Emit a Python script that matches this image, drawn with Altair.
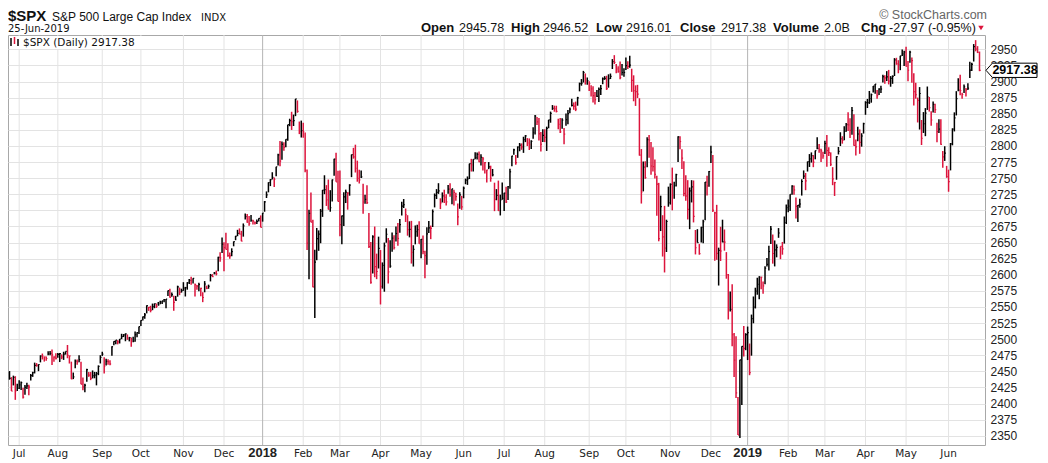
import altair as alt
import pandas as pd

# trading days per month (Jun-2017 partial ... Jun-2019 partial)
month_days = [5, 20, 23, 20, 22, 21, 20,
              21, 19, 21, 21, 22, 21, 21, 23, 19, 23, 21, 19,
              21, 19, 21, 21, 22, 17]
month_labels = ["", "Jul", "Aug", "Sep", "Oct", "Nov", "Dec",
                "2018", "Feb", "Mar", "Apr", "May", "Jun", "Jul", "Aug", "Sep", "Oct", "Nov", "Dec",
                "2019", "Feb", "Mar", "Apr", "May", "Jun"]

c17 = [2439.1, 2419.4, 2440.7, 2419.7, 2423.4,
       2429.0, 2432.5, 2409.8, 2425.2, 2427.4, 2425.5, 2443.3, 2447.8, 2459.3, 2459.1, 2460.6, 2473.8, 2473.5, 2472.5, 2469.9, 2477.1, 2477.8, 2475.4, 2472.1, 2470.3,
       2476.4, 2477.6, 2472.2, 2476.8, 2480.9, 2474.9, 2474.0, 2438.2, 2441.3, 2465.8, 2464.6, 2468.1, 2430.0, 2425.6, 2428.4, 2452.5, 2444.0, 2439.0, 2443.1, 2444.2, 2446.3, 2457.6, 2471.7,
       2476.6, 2457.9, 2465.5, 2465.1, 2461.4, 2488.1, 2496.5, 2498.4, 2495.6, 2500.2, 2503.9, 2506.7, 2508.2, 2500.6, 2502.2, 2496.7, 2496.8, 2507.0, 2510.1, 2519.4,
       2529.1, 2534.6, 2537.7, 2552.1, 2549.3, 2544.7, 2550.6, 2555.2, 2550.9, 2553.2, 2557.6, 2559.4, 2561.3, 2562.1, 2575.2, 2565.0, 2569.1, 2557.2, 2560.4, 2581.1, 2572.8, 2575.3,
       2579.4, 2579.9, 2587.8, 2591.1, 2590.6, 2594.4, 2584.6, 2582.3, 2584.8, 2578.9, 2564.6, 2585.6, 2578.9, 2582.1, 2599.0, 2597.1, 2602.4, 2601.4, 2627.0, 2626.1, 2647.6,
       2642.2, 2639.4, 2629.6, 2629.3, 2636.0, 2651.5, 2660.0, 2664.1, 2662.9, 2652.0, 2675.8, 2690.2, 2681.5, 2679.3, 2684.6, 2683.3, 2680.5, 2682.6, 2687.5, 2673.6]
h17 = [2450.4, 2441.0, 2443.3, 2442.4, 2430.7,
       2436.0, 2434.3, 2424.3, 2428.7, 2432.3, 2429.3, 2445.8, 2449.3, 2463.5, 2462.8, 2460.9, 2474.9, 2477.6, 2472.5, 2473.1, 2481.2, 2481.7, 2484.0, 2473.5, 2478.0,
       2478.5, 2478.5, 2476.3, 2480.4, 2480.9, 2490.9, 2474.4, 2465.0, 2448.1, 2468.2, 2468.4, 2474.9, 2465.0, 2440.3, 2430.6, 2454.0, 2448.9, 2448.9, 2451.4, 2449.1, 2449.0, 2459.2, 2475.0,
       2480.4, 2472.0, 2469.6, 2468.6, 2467.1, 2489.0, 2496.8, 2498.4, 2498.4, 2500.2, 2508.3, 2507.8, 2508.9, 2507.2, 2503.5, 2502.5, 2503.5, 2511.8, 2510.8, 2519.4,
       2529.2, 2535.1, 2540.5, 2552.5, 2550.0, 2551.8, 2555.2, 2555.2, 2555.3, 2557.7, 2559.7, 2559.7, 2562.4, 2562.4, 2575.4, 2578.3, 2572.2, 2567.4, 2567.1, 2583.0, 2580.0, 2578.3,
       2588.4, 2581.1, 2588.4, 2593.4, 2597.0, 2594.4, 2586.5, 2584.0, 2587.7, 2579.7, 2572.8, 2590.1, 2583.0, 2584.6, 2601.2, 2600.9, 2604.2, 2606.4, 2627.7, 2634.9, 2657.7,
       2650.6, 2665.2, 2648.7, 2634.4, 2641.0, 2651.7, 2660.3, 2669.7, 2671.9, 2668.1, 2679.6, 2695.0, 2694.2, 2691.0, 2692.6, 2685.4, 2682.7, 2685.6, 2687.7, 2692.1]
l17 = [2437.0, 2419.4, 2428.1, 2405.7, 2419.3,
       2422.7, 2421.1, 2407.7, 2413.5, 2422.5, 2412.8, 2435.8, 2441.4, 2446.7, 2457.2, 2450.3, 2463.9, 2468.4, 2465.1, 2466.3, 2474.9, 2474.9, 2459.9, 2464.7, 2468.5,
       2471.1, 2464.4, 2468.9, 2467.7, 2475.9, 2470.3, 2462.1, 2437.8, 2437.9, 2454.8, 2460.1, 2463.9, 2430.0, 2420.7, 2417.4, 2433.7, 2441.4, 2436.3, 2439.0, 2439.2, 2428.2, 2444.0, 2462.2,
       2473.9, 2446.6, 2459.2, 2460.3, 2459.4, 2474.0, 2490.4, 2492.1, 2491.9, 2493.2, 2499.9, 2503.2, 2496.7, 2499.0, 2496.5, 2488.0, 2495.1, 2495.9, 2502.9, 2507.8,
       2520.4, 2528.9, 2531.8, 2540.0, 2543.8, 2541.6, 2544.9, 2548.0, 2548.3, 2552.0, 2554.3, 2554.7, 2557.4, 2547.9, 2567.0, 2564.3, 2565.6, 2544.0, 2559.5, 2565.9, 2568.3, 2572.2,
       2574.9, 2566.2, 2576.8, 2585.7, 2584.4, 2586.4, 2566.3, 2576.6, 2574.5, 2566.6, 2557.4, 2572.7, 2577.5, 2578.2, 2589.6, 2596.4, 2600.5, 2598.9, 2605.4, 2620.3, 2633.9,
       2605.5, 2639.1, 2627.7, 2624.8, 2628.7, 2644.1, 2653.6, 2659.8, 2662.9, 2652.0, 2659.1, 2685.9, 2680.7, 2676.1, 2682.4, 2678.1, 2678.0, 2678.9, 2682.7, 2673.6]

c18 = [2695.8, 2713.1, 2724.0, 2743.2, 2747.7, 2751.3, 2748.2, 2767.6, 2786.2, 2776.4, 2802.6, 2798.0, 2810.3, 2833.0, 2839.1, 2837.5, 2839.3, 2872.9, 2853.5, 2822.4, 2823.8,
       2822.0, 2762.1, 2648.9, 2695.1, 2681.7, 2581.0, 2619.6, 2656.0, 2662.9, 2698.6, 2731.2, 2732.2, 2716.3, 2701.3, 2704.0, 2747.3, 2779.6, 2744.3, 2713.8,
       2677.7, 2691.3, 2720.9, 2728.1, 2726.8, 2739.0, 2786.6, 2783.0, 2765.3, 2749.5, 2747.3, 2752.0, 2712.9, 2716.9, 2711.9, 2643.7, 2588.3, 2658.6, 2612.6, 2605.0, 2640.9,
       2581.9, 2614.5, 2644.7, 2662.8, 2604.5, 2613.2, 2656.9, 2642.2, 2664.0, 2656.3, 2677.8, 2706.4, 2708.6, 2693.1, 2670.1, 2670.3, 2634.6, 2639.4, 2666.9, 2669.9, 2648.1,
       2654.8, 2635.7, 2629.7, 2663.4, 2672.6, 2671.9, 2697.8, 2723.1, 2727.7, 2730.1, 2711.5, 2722.5, 2720.1, 2713.0, 2733.0, 2724.4, 2733.3, 2727.8, 2721.3, 2689.9, 2724.0, 2705.3,
       2734.6, 2746.9, 2748.8, 2772.4, 2770.4, 2779.0, 2782.0, 2786.9, 2775.6, 2782.5, 2779.7, 2773.9, 2762.6, 2767.3, 2749.8, 2754.9, 2717.1, 2723.1, 2699.6, 2716.3, 2718.4,
       2726.7, 2713.2, 2736.6, 2759.8, 2784.2, 2793.8, 2774.0, 2798.3, 2801.3, 2798.4, 2809.6, 2815.6, 2804.5, 2801.8, 2807.0, 2820.4, 2846.1, 2837.4, 2818.8, 2802.6, 2816.3,
       2813.4, 2827.2, 2840.4, 2850.4, 2858.5, 2857.7, 2853.6, 2833.3, 2821.9, 2840.0, 2818.4, 2840.7, 2850.1, 2857.1, 2863.0, 2861.8, 2857.0, 2874.7, 2896.7, 2897.5, 2914.0, 2901.1, 2901.5,
       2896.7, 2888.6, 2878.1, 2871.7, 2877.1, 2887.9, 2888.9, 2904.2, 2905.0, 2888.8, 2904.3, 2908.0, 2930.8, 2929.7, 2919.4, 2915.6, 2906.0, 2914.0, 2914.0,
       2924.6, 2923.4, 2925.5, 2901.6, 2885.6, 2884.4, 2880.3, 2785.7, 2728.4, 2767.1, 2750.8, 2809.9, 2809.2, 2768.8, 2767.8, 2755.9, 2740.7, 2656.1, 2705.6, 2658.7, 2641.3, 2682.6, 2711.7,
       2740.4, 2723.1, 2738.3, 2755.5, 2813.9, 2806.8, 2781.0, 2726.2, 2722.2, 2701.6, 2730.2, 2736.3, 2690.7, 2641.9, 2649.9, 2632.6, 2673.5, 2682.2, 2743.8, 2737.8, 2760.2,
       2790.4, 2700.1, 2696.0, 2633.1, 2637.7, 2636.8, 2651.1, 2650.5, 2600.0, 2545.9, 2546.2, 2507.0, 2467.4, 2416.6, 2351.1, 2467.7, 2488.8, 2485.7, 2506.9]
h18 = [2695.9, 2714.4, 2729.3, 2743.5, 2748.5, 2759.1, 2750.8, 2767.6, 2787.9, 2807.5, 2807.0, 2805.8, 2810.3, 2833.0, 2842.2, 2853.0, 2848.6, 2872.9, 2870.6, 2837.8, 2839.3,
       2836.0, 2821.0, 2763.4, 2701.0, 2727.7, 2685.3, 2638.7, 2672.6, 2668.8, 2702.1, 2731.5, 2754.4, 2739.1, 2747.8, 2731.3, 2747.8, 2780.0, 2789.2, 2761.5,
       2761.7, 2692.0, 2728.1, 2732.1, 2728.1, 2740.5, 2786.6, 2797.0, 2801.9, 2777.1, 2763.0, 2761.9, 2741.4, 2724.2, 2739.1, 2695.7, 2650.9, 2661.4, 2674.8, 2632.7, 2659.1,
       2638.3, 2619.1, 2649.9, 2672.1, 2656.9, 2653.6, 2665.5, 2661.4, 2674.7, 2680.3, 2686.5, 2713.3, 2717.5, 2702.8, 2692.4, 2682.9, 2683.6, 2645.8, 2676.5, 2677.4, 2682.9,
       2655.3, 2660.9, 2637.1, 2673.6, 2683.4, 2676.3, 2701.3, 2726.1, 2732.9, 2742.1, 2718.6, 2727.8, 2732.0, 2725.1, 2739.2, 2742.2, 2733.3, 2732.0, 2727.4, 2710.7, 2728.1, 2722.5,
       2736.9, 2749.2, 2752.6, 2772.4, 2779.9, 2779.1, 2790.2, 2789.8, 2791.5, 2787.0, 2782.8, 2775.0, 2763.1, 2774.9, 2769.3, 2764.2, 2742.9, 2732.9, 2746.1, 2724.3, 2743.3,
       2727.3, 2736.6, 2737.8, 2764.4, 2784.7, 2795.6, 2785.9, 2799.2, 2804.5, 2803.9, 2814.2, 2816.8, 2812.1, 2811.6, 2808.6, 2829.0, 2848.0, 2844.9, 2843.2, 2821.7, 2825.8,
       2825.8, 2829.9, 2840.4, 2853.3, 2863.4, 2862.5, 2862.4, 2842.2, 2843.4, 2843.1, 2827.9, 2850.5, 2855.6, 2859.8, 2873.2, 2867.5, 2868.8, 2876.2, 2898.3, 2903.8, 2916.5, 2912.5, 2906.3,
       2900.2, 2894.2, 2892.5, 2883.8, 2886.9, 2890.7, 2894.7, 2906.3, 2908.3, 2908.9, 2911.2, 2912.4, 2934.8, 2940.9, 2927.1, 2923.8, 2931.2, 2927.2, 2920.5,
       2937.1, 2931.4, 2939.9, 2919.8, 2909.6, 2894.0, 2894.8, 2874.0, 2795.1, 2775.8, 2776.0, 2813.5, 2816.9, 2806.0, 2797.8, 2778.9, 2753.6, 2742.6, 2722.7, 2692.4, 2706.9, 2685.4, 2736.7,
       2741.8, 2766.3, 2744.3, 2756.8, 2814.8, 2814.8, 2795.0, 2776.0, 2754.6, 2746.8, 2735.4, 2746.8, 2746.3, 2669.4, 2670.7, 2647.6, 2674.4, 2685.4, 2744.0, 2753.8, 2760.9,
       2800.2, 2785.9, 2697.8, 2708.5, 2642.0, 2674.4, 2685.4, 2670.2, 2635.1, 2601.1, 2574.0, 2585.3, 2509.6, 2504.4, 2410.3, 2467.8, 2489.1, 2520.3, 2509.2]
l18 = [2682.4, 2697.8, 2719.1, 2727.9, 2737.6, 2747.9, 2736.1, 2752.8, 2769.6, 2768.6, 2778.4, 2792.6, 2798.1, 2808.1, 2830.6, 2824.8, 2830.9, 2846.2, 2851.5, 2818.3, 2813.0,
       2812.7, 2759.1, 2638.2, 2593.1, 2681.3, 2580.6, 2532.7, 2622.5, 2637.1, 2648.9, 2689.8, 2725.1, 2706.8, 2701.3, 2697.8, 2713.7, 2753.8, 2744.2, 2713.5,
       2659.7, 2647.3, 2675.8, 2711.3, 2701.0, 2722.7, 2751.5, 2780.2, 2758.7, 2744.4, 2741.5, 2750.0, 2694.6, 2710.1, 2709.8, 2641.6, 2585.9, 2601.8, 2596.1, 2593.1, 2609.7,
       2553.8, 2578.4, 2573.6, 2649.6, 2586.3, 2610.8, 2635.8, 2639.3, 2651.7, 2645.1, 2665.2, 2692.1, 2703.6, 2681.9, 2660.6, 2658.0, 2617.3, 2612.7, 2647.2, 2659.0, 2648.0,
       2625.4, 2631.7, 2594.6, 2615.3, 2664.7, 2655.2, 2674.1, 2704.5, 2717.5, 2725.5, 2701.9, 2712.2, 2711.4, 2707.4, 2725.7, 2721.2, 2709.5, 2707.4, 2715.0, 2676.8, 2702.4, 2700.7,
       2718.7, 2740.5, 2739.5, 2748.5, 2760.2, 2760.2, 2779.3, 2778.8, 2774.7, 2769.5, 2761.7, 2757.1, 2743.3, 2763.9, 2744.4, 2752.7, 2698.7, 2715.6, 2699.0, 2692.0, 2716.4,
       2699.0, 2711.2, 2716.0, 2733.3, 2768.5, 2786.2, 2770.8, 2781.5, 2791.7, 2794.0, 2789.2, 2805.9, 2799.8, 2793.6, 2795.1, 2811.1, 2817.7, 2832.3, 2808.3, 2791.5, 2805.9,
       2805.9, 2792.2, 2827.4, 2836.0, 2855.9, 2853.1, 2852.0, 2825.8, 2819.9, 2826.6, 2802.5, 2831.4, 2833.7, 2850.6, 2861.3, 2856.1, 2854.0, 2862.4, 2884.7, 2893.5, 2898.4, 2895.2, 2895.1,
       2885.1, 2876.9, 2867.3, 2864.1, 2875.9, 2868.1, 2879.2, 2895.8, 2902.5, 2886.9, 2890.4, 2903.8, 2919.4, 2927.1, 2912.8, 2913.4, 2903.3, 2909.3, 2907.5,
       2917.9, 2919.4, 2921.4, 2883.9, 2869.3, 2862.1, 2874.3, 2784.9, 2710.5, 2729.4, 2749.0, 2766.9, 2781.8, 2755.2, 2760.3, 2749.2, 2691.4, 2651.9, 2667.8, 2628.2, 2603.5, 2635.3, 2705.6,
       2708.9, 2700.0, 2717.9, 2737.1, 2774.9, 2795.0, 2764.2, 2722.0, 2715.0, 2685.8, 2670.7, 2712.2, 2681.2, 2631.5, 2649.8, 2631.1, 2650.0, 2648.7, 2684.4, 2722.9, 2736.6,
       2773.4, 2697.2, 2621.5, 2623.1, 2583.2, 2621.3, 2650.3, 2637.3, 2593.8, 2530.5, 2542.7, 2489.0, 2441.2, 2408.6, 2351.1, 2346.6, 2397.9, 2472.9, 2482.8]

c19 = [2510.0, 2447.9, 2531.9, 2549.7, 2574.4, 2585.0, 2596.6, 2596.3, 2582.6, 2610.3, 2616.1, 2636.0, 2670.7, 2632.9, 2638.7, 2642.3, 2664.8, 2643.9, 2640.0, 2681.1, 2704.1,
       2706.5, 2724.9, 2737.7, 2731.6, 2706.1, 2707.9, 2709.8, 2744.7, 2753.0, 2745.7, 2775.6, 2779.8, 2784.7, 2774.9, 2792.7, 2796.1, 2793.9, 2792.4, 2784.5,
       2803.7, 2792.8, 2789.7, 2771.5, 2748.9, 2743.1, 2783.3, 2791.5, 2810.9, 2808.5, 2822.5, 2832.9, 2832.6, 2824.2, 2854.9, 2800.7, 2798.4, 2818.5, 2805.4, 2815.4, 2834.4,
       2867.2, 2867.2, 2873.4, 2879.4, 2892.7, 2895.8, 2878.2, 2888.2, 2888.3, 2907.4, 2905.6, 2907.1, 2900.5, 2905.0, 2908.0, 2933.7, 2927.3, 2926.2, 2939.9, 2943.0, 2945.8,
       2923.7, 2917.5, 2945.6, 2932.5, 2884.1, 2879.4, 2870.7, 2881.4, 2811.9, 2834.4, 2851.0, 2876.3, 2859.5, 2840.2, 2864.4, 2856.3, 2822.2, 2826.1, 2802.4, 2783.0, 2788.9, 2752.1,
       2744.5, 2803.3, 2826.2, 2843.5, 2873.3, 2886.7, 2885.7, 2879.8, 2891.6, 2887.0, 2889.7, 2917.8, 2926.5, 2954.2, 2950.5, 2945.4, 2917.38]
h19 = [2519.5, 2493.1, 2538.1, 2566.2, 2579.8, 2595.3, 2597.8, 2596.3, 2589.3, 2613.1, 2625.8, 2645.1, 2675.5, 2662.4, 2653.2, 2647.2, 2672.4, 2644.0, 2650.9, 2690.4, 2709.0,
       2716.7, 2725.0, 2739.0, 2738.5, 2719.7, 2708.1, 2718.1, 2748.2, 2761.9, 2757.9, 2775.7, 2787.3, 2789.9, 2785.8, 2792.7, 2813.5, 2803.1, 2795.4, 2791.1,
       2808.0, 2816.9, 2798.0, 2790.0, 2767.0, 2744.2, 2784.0, 2798.3, 2821.2, 2815.0, 2830.7, 2835.4, 2852.4, 2843.1, 2860.3, 2849.2, 2809.8, 2829.9, 2825.6, 2819.7, 2836.0,
       2869.4, 2872.9, 2885.3, 2881.3, 2893.2, 2896.0, 2886.9, 2889.7, 2893.4, 2910.5, 2909.6, 2916.1, 2918.0, 2908.4, 2909.5, 2936.3, 2936.8, 2933.1, 2939.9, 2949.5, 2947.6,
       2954.1, 2931.7, 2947.9, 2937.3, 2913.0, 2898.0, 2875.0, 2891.3, 2840.2, 2852.5, 2858.7, 2892.2, 2876.0, 2853.9, 2868.9, 2865.5, 2836.0, 2841.4, 2841.4, 2792.0, 2799.5, 2769.0,
       2763.1, 2804.5, 2827.3, 2852.1, 2885.0, 2905.2, 2910.6, 2882.7, 2895.2, 2890.0, 2897.3, 2930.8, 2929.3, 2958.1, 2964.2, 2954.9, 2946.52]
l19 = [2467.5, 2444.0, 2474.3, 2524.6, 2547.6, 2568.9, 2562.0, 2577.4, 2570.4, 2585.1, 2612.7, 2606.4, 2647.6, 2617.2, 2612.9, 2627.0, 2657.3, 2624.1, 2631.1, 2648.3, 2678.7,
       2696.9, 2698.8, 2724.0, 2724.2, 2687.3, 2681.8, 2703.8, 2722.9, 2748.6, 2731.2, 2760.2, 2767.3, 2774.1, 2767.0, 2779.2, 2795.0, 2789.5, 2775.1, 2780.2,
       2787.4, 2767.7, 2784.4, 2768.7, 2739.0, 2722.3, 2747.5, 2786.7, 2799.8, 2803.5, 2808.6, 2822.0, 2823.3, 2812.4, 2817.4, 2800.4, 2785.0, 2807.2, 2787.7, 2798.8, 2819.2,
       2848.3, 2858.8, 2865.2, 2867.1, 2883.0, 2880.8, 2873.3, 2879.1, 2882.0, 2898.4, 2896.5, 2900.7, 2895.5, 2891.9, 2896.4, 2908.5, 2926.1, 2912.8, 2917.6, 2939.4, 2924.1,
       2923.4, 2900.5, 2929.1, 2898.2, 2862.6, 2873.3, 2836.4, 2825.4, 2801.4, 2820.1, 2815.1, 2855.9, 2853.3, 2831.3, 2851.8, 2851.1, 2805.5, 2820.2, 2801.6, 2766.1, 2776.7, 2750.5,
       2728.8, 2762.0, 2800.9, 2822.5, 2847.3, 2884.9, 2878.5, 2873.1, 2882.0, 2876.7, 2886.9, 2905.4, 2916.4, 2931.0, 2946.9, 2944.1, 2916.01]

y_ticks = list(range(2350, 2951, 25))

# ---------------------------------------------------------------- tables
closes = c17 + c18 + c19
highs = h17 + h18 + h19
lows = l17 + l18 + l19
n = len(closes)
assert n == len(highs) == len(lows) == sum(month_days)

bars = pd.DataFrame({"idx": range(n), "close": closes, "high": highs, "low": lows})
prev = bars["close"].shift(1).fillna(bars["close"])
bars["dir"] = ["up" if c >= p else "down" for c, p in zip(bars["close"], prev)]

starts, s = [], 0
for d in month_days:
    starts.append(s)
    s += d
months = pd.DataFrame({"idx": starts, "label": month_labels})
months = months[months["label"] != ""].copy()
months["year"] = months["label"].str.isdigit()

last = bars.iloc[[-1]].copy()
last["txt"] = last["close"].map(lambda v: f"{v:.2f}")
one = pd.DataFrame({"k": [0]})

W, H = 977, 410
RED = "#dc143c"
xscale = alt.Scale(domain=[-0.78, 504.85], nice=False, zero=False)
yscale = alt.Scale(domain=[2335.6, 2972.2], nice=False, zero=False)
yaxis = alt.Axis(orient="right", values=y_ticks, grid=True, gridColor="#e3e3e3", format="d",
                 ticks=False, domain=False, labelFont="Liberation Sans",
                 labelFontSize=12, labelColor="#222", labelPadding=5, title=None)
X = alt.X("idx:Q", scale=xscale, axis=None)


def Y(field):
    return alt.Y(field, scale=yscale, axis=yaxis, title=None)


# month gridlines
vgrid = alt.Chart(months).mark_rule(strokeWidth=1).encode(
    x=X,
    color=alt.condition("datum.year", alt.value("#b4b4b4"), alt.value("#e3e3e3")),
)

color = alt.Color("dir:N", scale=alt.Scale(domain=["up", "down"], range=["#000000", RED]), legend=None)

hl = alt.Chart(bars).mark_rule(strokeWidth=1.5).encode(
    x=X, y=Y("low:Q"), y2="high:Q", color=color,
)
ctick = alt.Chart(bars).transform_calculate(xr="datum.idx + 0.6").mark_rule(strokeWidth=1.2).encode(
    x=X, x2="xr:Q", y=Y("close:Q"), color=color,
)

mlabels = alt.Chart(months).transform_filter("!datum.year").mark_text(
    font="DejaVu Sans", fontSize=10.5, color="#222", baseline="alphabetic", align="center"
).encode(x=X, y=alt.value(H + 12), text="label:N")
ylabels = alt.Chart(months).transform_filter("datum.year").mark_text(
    font="Liberation Sans", fontSize=13, fontWeight="bold", color="#222", baseline="alphabetic", align="center"
).encode(x=X, y=alt.value(H + 12), text="label:N")


def txt(s, x, y, size=12, font="Liberation Sans", weight="normal", color="#111", align="left"):
    return alt.Chart(one).mark_text(text=s, font=font, fontSize=size, fontWeight=weight,
                                    color=color, align=align, baseline="alphabetic").encode(
        x=alt.value(x), y=alt.value(y))


# in-plot legend
legbox = alt.Chart(one).mark_rect(fill="white").encode(
    x=alt.value(1), x2=alt.value(143), y=alt.value(1), y2=alt.value(14))
icon = [
    alt.Chart(one).mark_rule(color="#000", strokeWidth=1.5).encode(x=alt.value(3), y=alt.value(3), y2=alt.value(11)),
    alt.Chart(one).mark_rule(color=RED, strokeWidth=1.5).encode(x=alt.value(6.5), y=alt.value(2), y2=alt.value(9)),
    alt.Chart(one).mark_rule(color="#000", strokeWidth=1.5).encode(x=alt.value(10), y=alt.value(4), y2=alt.value(11)),
]
legtxt = alt.Chart(last).transform_calculate(lbl="'$SPX (Daily) ' + datum.txt").mark_text(
    font="DejaVu Sans", fontSize=10.5, color="#111", align="left", baseline="alphabetic"
).encode(x=alt.value(15), y=alt.value(10.5), text=alt.Text("lbl:N"))

hy = -3
header = [
    txt("$SPX", 0, -14, size=15, weight="bold"),
    txt("S&P 500 Large Cap Index", 44, -14, size=12),
    txt("INDX", 193, -14, size=10, font="DejaVu Sans"),
    txt("25-Jun-2019", 0, -3, size=10, font="DejaVu Sans"),
    txt("© StockCharts.com", 979, -16, size=12.5, color="#666", align="right"),
    txt("Open", 413, hy, size=13, weight="bold"),
    txt("2945.78", 451, hy, size=12.5),
    txt("High", 503, hy, size=13, weight="bold"),
    txt("2946.52", 535, hy, size=12.5),
    txt("Low", 588, hy, size=13, weight="bold"),
    txt("2916.01", 618, hy, size=12.5),
    txt("Close", 672, hy, size=13, weight="bold"),
    txt("2917.38", 713, hy, size=12.5),
    txt("Volume", 765, hy, size=13, weight="bold"),
    txt("2.0B", 816, hy, size=12.5),
    txt("Chg", 853, hy, size=13, weight="bold"),
    txt("-27.97 (-0.95%)", 881, hy, size=12.5),
    alt.Chart(one).mark_point(shape="triangle-down", filled=True, color=RED, size=30, opacity=1).encode(
        x=alt.value(973), y=alt.value(hy - 4)),
]

tag_shape = "M -1 0 L -0.75 -0.28 L 1 -0.28 L 1 0.28 L -0.75 0.28 Z"
tag = alt.Chart(last).mark_point(shape=tag_shape, filled=True, fill="white", stroke="#000",
                                 strokeWidth=1, size=2601, opacity=1).encode(
    x=alt.value(1003.5), y=Y("close:Q"))
tagtxt = alt.Chart(last).mark_text(font="Liberation Sans", fontSize=12.5, fontWeight="bold",
                                   color="#000", align="center", baseline="middle").encode(
    x=alt.value(1007), y=Y("close:Q"), text="txt:N")

chart = alt.layer(
    vgrid, hl, ctick, mlabels, ylabels, legbox, *icon, legtxt, *header, tag, tagtxt
).properties(
    width=W, height=H, autosize="none",
    padding={"left": 0, "top": 27, "right": 55, "bottom": 18},
    background="white",
).configure_view(stroke="#a8a8a8", strokeWidth=1)

chart.save("out.html", embed_options={"renderer": "svg", "actions": False})
